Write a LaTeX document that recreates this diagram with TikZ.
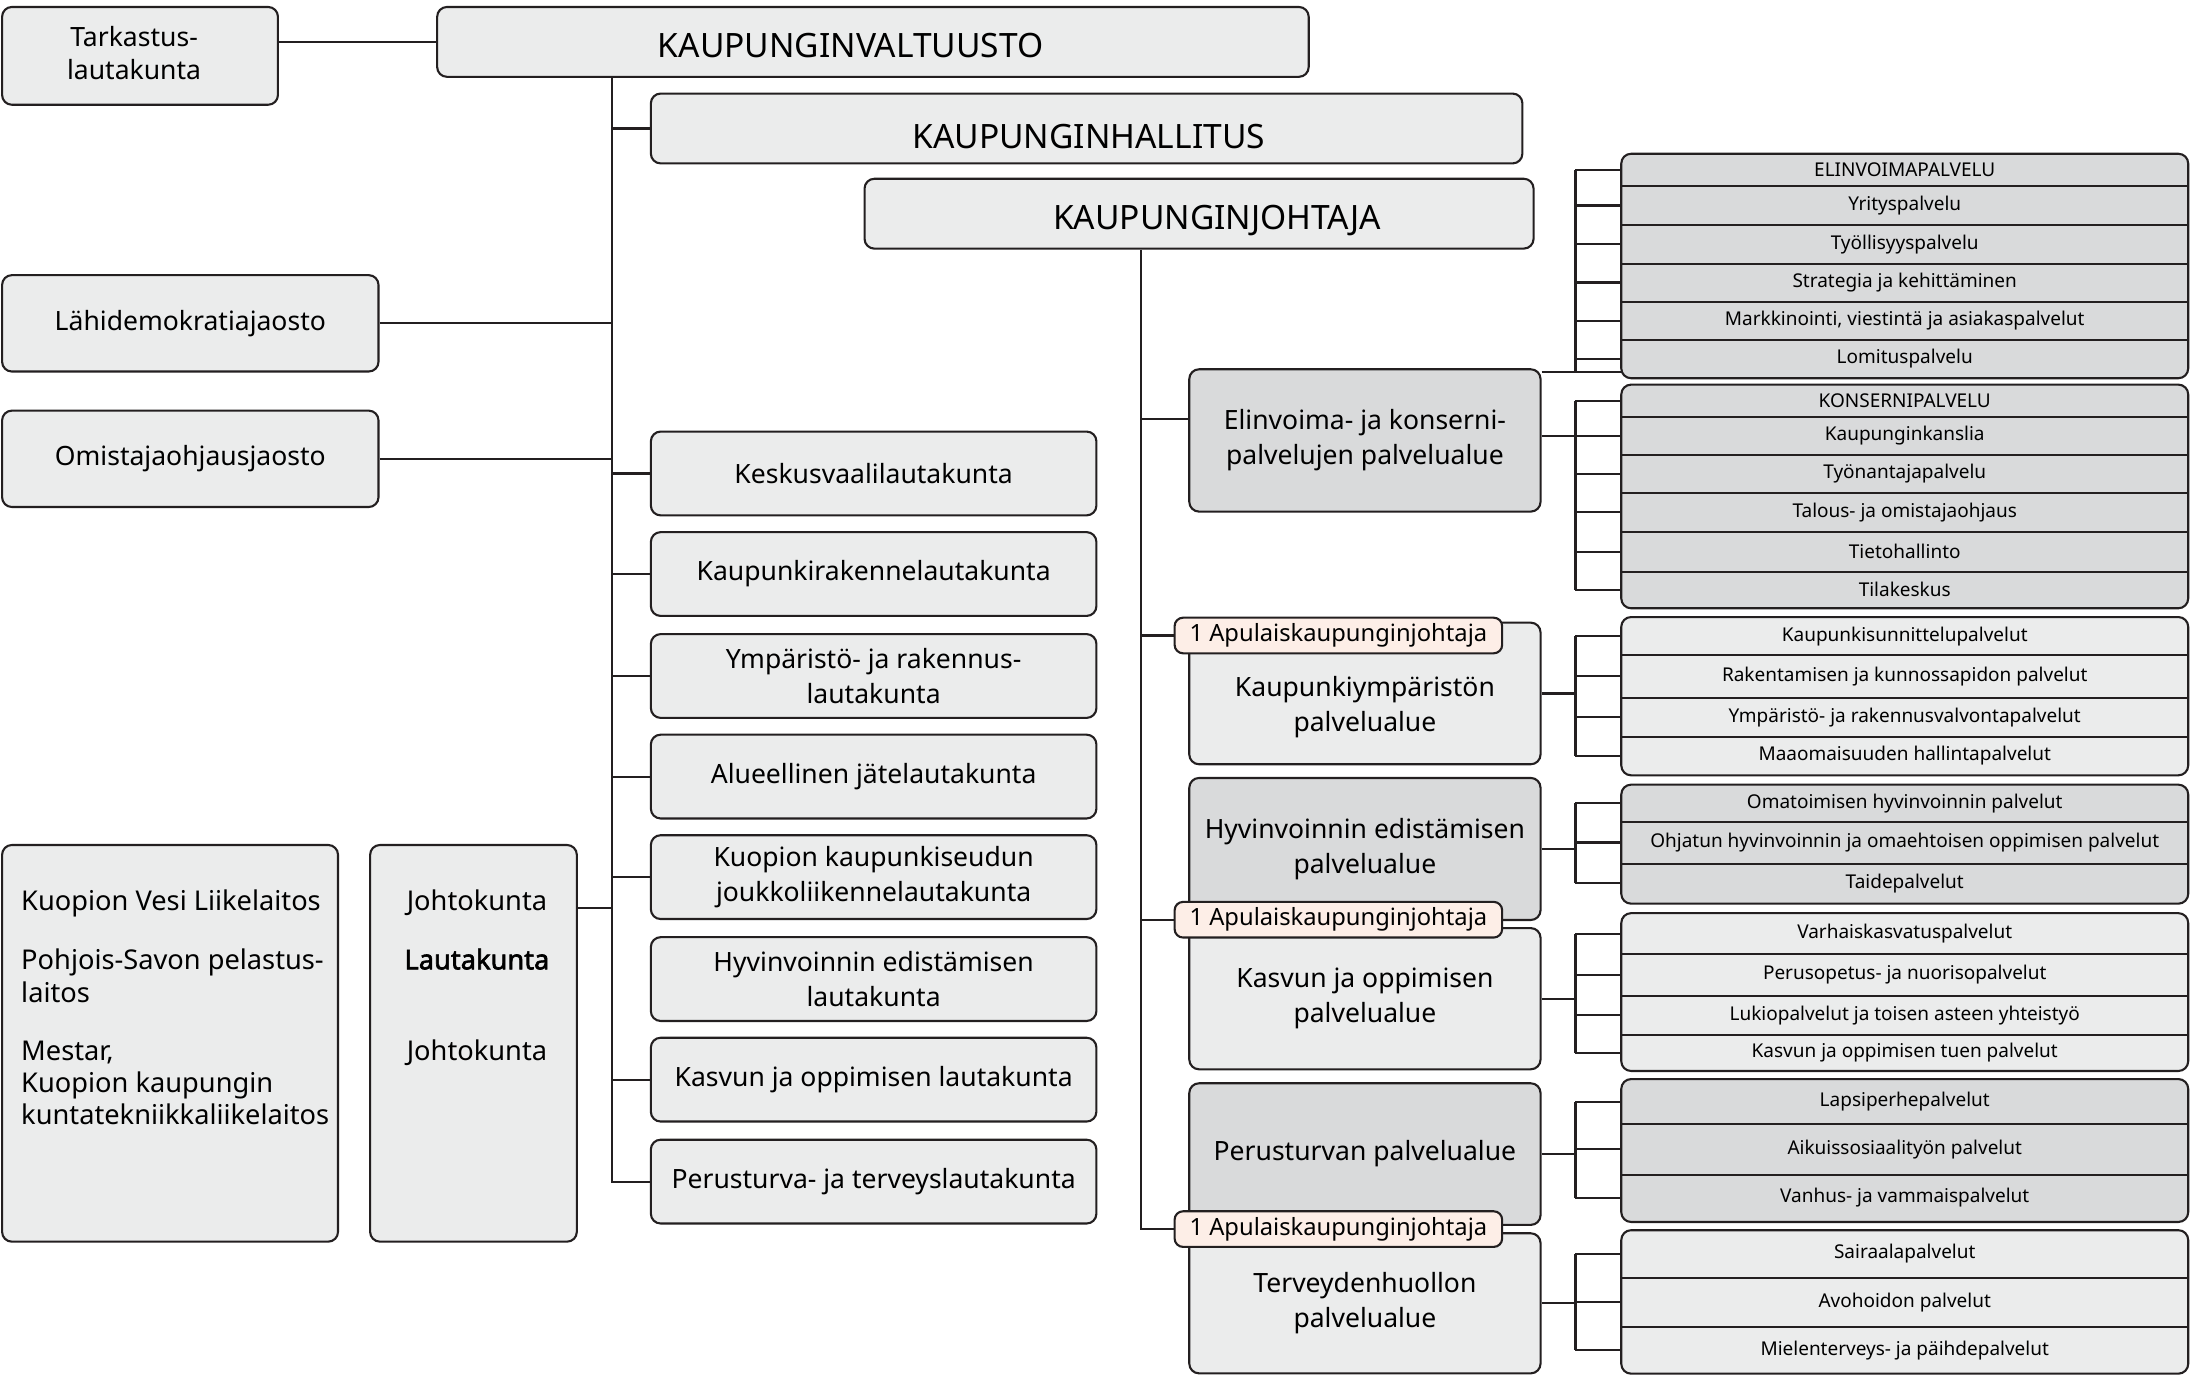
\documentclass[tikz,border=0pt]{standalone}
\usepackage{fontspec}
\setmainfont{Noto Sans}
\newfontfamily\fbold[FakeBold=2.2]{Noto Sans}
\usetikzlibrary{calc}
\pgfdeclarelayer{bg}\pgfdeclarelayer{fr}
\pgfsetlayers{bg,fr,main}
\definecolor{lc}{HTML}{231F20}
\definecolor{lf}{HTML}{EBECEC}
\definecolor{df}{HTML}{D9DADB}
\definecolor{tf}{HTML}{FDEEE7}
\tikzset{
 box/.style={draw=lc, line width=1.5pt, rounded corners=7pt, fill=lf, align=center, inner sep=0pt, font=\fontsize{19}{25}\selectfont},
 dbox/.style={box, fill=df},
 titletext/.style={inner sep=0pt, font=\fontsize{24}{28}\selectfont},
 ltxt/.style={inner sep=0pt, font=\fontsize{19.5}{23.5}\selectfont},
 lauta/.style={box, minimum width=319pt, minimum height=60pt},
 rbox/.style={box, minimum width=251.5pt},
 tagbox/.style={draw=lc, line width=1.5pt, rounded corners=6pt, fill=tf, inner sep=0pt, font=\fontsize{17}{20}\selectfont, minimum width=234.5pt, minimum height=25.5pt},
 conn/.style={draw=lc, line width=1.5pt},
 row/.style={inner sep=0pt, minimum width=405.5pt, font=\fontsize{13.6}{16}\selectfont},
 frame/.style={draw=lc, line width=1.5pt, rounded corners=7pt},
 sepl/.style={draw=lc, line width=1.5pt},
}
\newcommand\mkrow[4]{\node[row, minimum height=#3pt] (#1) at (1363.75,#2) {#4};}
\begin{document}
\begin{tikzpicture}[x=1pt,y=-1pt]
\useasboundingbox (0,0) rectangle (1568,984);
% top
\node[box, minimum width=197.5pt, minimum height=70pt] (tark) at (100.25,40) {};
\node[inner sep=0pt, align=center, font=\fontsize{19}{24}\selectfont] (tarkT) at (96,38) {Tarkastus-\\lautakunta};
\node[box, minimum width=624pt, minimum height=50pt] (valt) at (625,30) {};
\node[titletext] (valtT) at (609,32.5) {KAUPUNGINVALTUUSTO};
\node[box, minimum width=624pt, minimum height=50pt] (hall) at (778,92) {};
\node[titletext] (hallT) at (779.5,98) {KAUPUNGINHALLITUS};
\node[box, minimum width=479pt, minimum height=50pt] (joht) at (858.5,153) {};
\node[titletext] (johtT) at (871.5,158) {KAUPUNGINJOHTAJA};
% left
\node[box, minimum width=269.5pt, minimum height=69pt] (lahi) at (136.25,231.5) {Lähidemokratiajaosto};
\node[box, minimum width=269.5pt, minimum height=69pt] (omis) at (136.25,328.5) {Omistajaohjausjaosto};
% lautakunnat
\node[lauta] (kesk) at (625.5,339) {Keskusvaalilautakunta};
\node[lauta] (kaup) at (625.5,411) {Kaupunkirakennelautakunta};
\node[lauta] (ymp) at (625.5,484) {Ympäristö- ja rakennus-\\lautakunta};
\node[lauta] (alue) at (625.5,556) {Alueellinen jätelautakunta};
\node[lauta] (kjl) at (625.5,628) {Kuopion kaupunkiseudun\\joukkoliikennelautakunta};
\node[lauta] (hyvl) at (625.5,701) {Hyvinvoinnin edistämisen\\lautakunta};
\node[lauta] (kasl) at (625.5,773) {Kasvun ja oppimisen lautakunta};
\node[lauta] (perl) at (625.5,846) {Perusturva- ja terveyslautakunta};
% bottom left
\node[box, minimum width=240.5pt, minimum height=284pt] (vesi) at (121.75,747) {};
\node[ltxt, anchor=base west] (v1) at (15,652) {Kuopion Vesi Liikelaitos};
\node[ltxt, anchor=base west] (v2) at (15,694) {Pohjois-Savon pelastus-};
\node[ltxt, anchor=base west] (v3) at (15,718) {laitos};
\node[ltxt, anchor=base west] (v4) at (15,759) {Mestar,};
\node[ltxt, anchor=base west] (v5) at (15,782) {Kuopion kaupungin};
\node[ltxt, anchor=base west] (v6) at (15,805) {kuntatekniikkaliikelaitos};
\node[box, minimum width=148pt, minimum height=284pt] (johto) at (339,747) {};
\node[ltxt, anchor=base] (j1) at (341.5,652) {Johtokunta};
\node[ltxt, anchor=base] (j2) at (341.5,694) {\fbold Lautakunta};
\node[ltxt, anchor=base] (j3) at (341.5,759) {Johtokunta};
% palvelualueet
\node[rbox, fill=df, minimum height=101.9pt] (elin) at (977.25,315.35) {Elinvoima- ja konserni-\\palvelujen palvelualue};
\node[rbox, minimum height=101.4pt] (kyo) at (977.25,496.5) {};
\node[inner sep=0pt, align=center, font=\fontsize{19}{25}\selectfont] (kyoT) at (977.25,506.5) {Kaupunkiympäristön\\palvelualue};
\node[rbox, fill=df, minimum height=101.7pt] (hyv) at (977.25,607.85) {Hyvinvoinnin edistämisen\\palvelualue};
\node[rbox, minimum height=101.1pt] (kas) at (977.25,715.05) {Kasvun ja oppimisen\\palvelualue};
\node[rbox, fill=df, minimum height=101.4pt] (per) at (977.25,826.3) {Perusturvan palvelualue};
\node[rbox, minimum height=100.3pt] (ter) at (977.25,933.15) {Terveydenhuollon\\palvelualue};
% rows
\mkrow{E0}{121.75}{22.9}{ELINVOIMAPALVELU}
\mkrow{E1}{147.15}{27.9}{Yrityspalvelu}
\mkrow{E2}{174.8}{27.4}{Työllisyyspalvelu}
\mkrow{E3}{202.25}{27.5}{Strategia ja kehittäminen}
\mkrow{E4}{229.7}{27.4}{Markkinointi, viestintä ja asiakaspalvelut}
\mkrow{E5}{257}{27.2}{Lomituspalvelu}
\mkrow{K0}{286.95}{22.7}{KONSERNIPALVELU}
\mkrow{K1}{312.05}{27.5}{Kaupunginkanslia}
\mkrow{K2}{339.4}{27.2}{Työnantajapalvelu}
\mkrow{K3}{366.85}{27.7}{Talous- ja omistajaohjaus}
\mkrow{K4}{395}{28.6}{Tietohallinto}
\mkrow{K5}{422.3}{26}{Tilakeskus}
\mkrow{Y0}{455.5}{27}{Kaupunkisunnittelupalvelut}
\mkrow{Y1}{484.15}{30.3}{Rakentamisen ja kunnossapidon palvelut}
\mkrow{Y2}{513.4}{28.2}{Ympäristö- ja rakennusvalvontapalvelut}
\mkrow{Y3}{541.2}{27.4}{Maaomaisuuden hallintapalvelut}
\mkrow{H0}{575.15}{26.3}{Omatoimisen hyvinvoinnin palvelut}
\mkrow{H1}{603.2}{29.8}{Ohjatun hyvinvoinnin ja omaehtoisen oppimisen palvelut}
\mkrow{H2}{632.45}{28.7}{Taidepalvelut}
\mkrow{G0}{668.5}{29}{Varhaiskasvatuspalvelut}
\mkrow{G1}{698}{30}{Perusopetus- ja nuorisopalvelut}
\mkrow{G2}{727}{28}{Lukiopalvelut ja toisen asteen yhteistyö}
\mkrow{G3}{753.8}{25.6}{Kasvun ja oppimisen tuen palvelut}
\mkrow{P0}{788.8}{32}{Lapsiperhepalvelut}
\mkrow{P1}{822.8}{36}{Aikuissosiaalityön palvelut}
\mkrow{P2}{857.75}{33.9}{Vanhus- ja vammaispalvelut}
\mkrow{S0}{897.75}{33.5}{Sairaalapalvelut}
\mkrow{S1}{932.25}{35.5}{Avohoidon palvelut}
\mkrow{S2}{966.65}{33.3}{Mielenterveys- ja päihdepalvelut}
% frames
\begin{pgfonlayer}{fr}
\draw[frame, fill=df] (E0.north west) rectangle (E5.south east);
\draw[frame, fill=df] (K0.north west) rectangle (K5.south east);
\draw[frame, fill=lf] (Y0.north west) rectangle (Y3.south east);
\draw[frame, fill=df] (H0.north west) rectangle (H2.south east);
\draw[frame, fill=lf] (G0.north west) rectangle (G3.south east);
\draw[frame, fill=df] (P0.north west) rectangle (P2.south east);
\draw[frame, fill=lf] (S0.north west) rectangle (S2.south east);
\end{pgfonlayer}
% separators
\foreach \r in {E0,E1,E2,E3,E4,K0,K1,K2,K3,K4,Y0,Y1,Y2,H0,H1,G0,G1,G2,P0,P1,S0,S1}
  \draw[sepl] (\r.south west) -- (\r.south east);
% tags
\node[tagbox] (t1) at (958.25,455) {1 Apulaiskaupunginjohtaja};
\node[tagbox] (t2) at (958.25,658.5) {1 Apulaiskaupunginjohtaja};
\node[tagbox] (t3) at (958.25,880) {1 Apulaiskaupunginjohtaja};
% connectors
\coordinate (tr1) at (438,0);
\coordinate (tr2) at (817,0);
\coordinate (bx) at (1128,0);
\coordinate (jy) at (0,650);
\coordinate (ey) at (0,300);
\coordinate (ey2) at (0,266.5);
\begin{pgfonlayer}{bg}
\draw[conn] (valt.west) -- (valt.west -| tark.east);
\draw[conn] (tr1 |- valt.south) |- (perl.west);
\foreach \n in {hall,kesk,kaup,ymp,alue,kjl,kasl}
  \draw[conn] (tr1 |- \n.west) -- (\n.west);
\foreach \n in {lahi,omis}
  \draw[conn] (\n.east) -- (\n.east -| tr1);
\draw[conn] (johto.east |- jy) -- (tr1 |- jy);
\draw[conn] (tr2 |- joht.south) |- (t3.west);
\draw[conn] (tr2 |- ey) -- (elin.west |- ey);
\draw[conn] (tr2 |- t1.west) -- (t1.west);
\draw[conn] (tr2 |- t2.west) -- (t2.west);
% brackets
\draw[conn] (bx |- E0) -- (bx |- ey2);
\draw[conn] (elin.east |- ey2) -- (E5.west |- ey2);
\draw[conn] (bx |- K0) -- (bx |- K5);
\draw[conn] (elin.east |- K1) -- (bx |- K1);
\draw[conn] (bx |- Y0) -- (bx |- Y3);
\draw[conn] (kyo.east) -- (kyo.east -| bx);
\draw[conn] (bx |- H0) -- (bx |- H2);
\draw[conn] (hyv.east) -- (hyv.east -| bx);
\draw[conn] (bx |- G0) -- (bx |- G3);
\draw[conn] (kas.east) -- (kas.east -| bx);
\draw[conn] (bx |- P0) -- (bx |- P2);
\draw[conn] (per.east) -- (per.east -| bx);
\draw[conn] (bx |- S0) -- (bx |- S2);
\draw[conn] (ter.east) -- (ter.east -| bx);
\foreach \r in {E0,E1,E2,E3,E4,E5,K0,K1,K2,K3,K4,K5,Y0,Y1,Y2,Y3,H0,H1,H2,G0,G1,G2,G3,P0,P1,P2,S0,S1,S2}
  \draw[conn] (bx |- \r.west) -- (\r.west);
\end{pgfonlayer}
\end{tikzpicture}
\end{document}
